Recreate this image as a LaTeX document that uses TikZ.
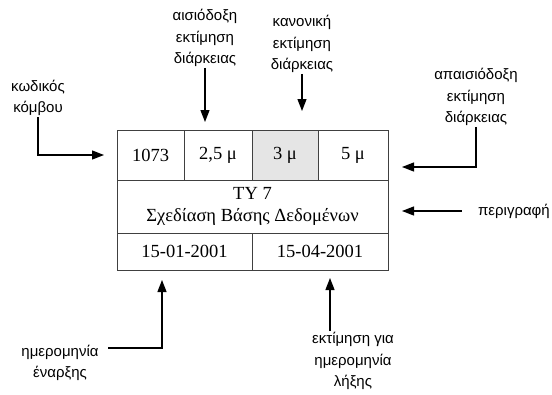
\documentclass[tikz,border=0pt]{standalone}
\usepackage{fontspec}
\setmainfont{Liberation Serif}
\setsansfont{Liberation Sans}
\usepackage{xcolor}
\usetikzlibrary{arrows.meta,positioning}

\begin{document}
\begin{tikzpicture}[x=1pt,y=-1pt,
  cell/.style={draw=black!75,line width=0.6pt,inner sep=0pt,outer sep=0pt,font=\fontsize{18.5}{22}\selectfont,align=center},
  lbl/.style={font=\sffamily\fontsize{15}{21.5}\selectfont,align=center,inner sep=1pt},
  arr/.style={-{Triangle[length=12pt,width=9pt]},line width=1.3pt}]
\useasboundingbox (0,0) rectangle (552,394);
% the node card
\node[cell,minimum width=67pt,minimum height=50pt] (c1) at (150.5,155) {1073};
\node[cell,minimum width=68pt,minimum height=50pt] (c2) at (218,155) {2,5 μ};
\node[cell,minimum width=66pt,minimum height=50pt,fill=black!10] (c3) at (285,155) {3 μ};
\node[cell,minimum width=70pt,minimum height=50pt] (c4) at (353,155) {5 μ};
\node[cell,minimum width=271pt,minimum height=53pt] (desc) at (252.5,206.5) {ΤΥ 7\\Σχεδίαση Βάσης Δεδομένων};
\node[cell,minimum width=135pt,minimum height=37pt] (d1) at (184.5,251.5) {15-01-2001};
\node[cell,minimum width=136pt,minimum height=37pt] (d2) at (320,251.5) {15-04-2001};
% labels
\node[lbl] (kod) at (38,98) {κωδικός\\κόμβου};
\node[lbl] (ais) at (205,38) {αισιόδοξη\\εκτίμηση\\διάρκειας};
\node[lbl] (kan) at (302,44) {κανονική\\εκτίμηση\\διάρκειας};
\node[lbl] (apa) at (476,97) {απαισιόδοξη\\εκτίμηση\\διάρκειας};
\node[lbl,anchor=east] (per) at (551,211) {περιγραφή};
\node[lbl] (enar) at (60,363) {ημερομηνία\\έναρξης};
\node[lbl] (lix) at (353,361) {εκτίμηση για\\ημερομηνία\\λήξης};
% free ends
\coordinate (pe) at (402,167);
\coordinate (es) at (108,348);
\coordinate (ee) at (162,280);
\coordinate (le) at (330,278);
% arrows
\draw[arr] (kod.south) |- (c1.west) [shorten >=13pt];
\draw[arr,shorten >=8pt] (ais.south) -- (ais.south |- c2.north);
\draw[arr,shorten >=19pt] (kan.south) -- (kan.south |- c3.north);
\draw[arr] (apa.south) |- (pe);
\draw[arr,shorten <=15pt,shorten >=14pt] (per.west) -- (per.west -| desc.east);
\draw[arr] (es) -| (ee);
\draw[arr] (le |- lix.north) -- (le);
\end{tikzpicture}
\end{document}
